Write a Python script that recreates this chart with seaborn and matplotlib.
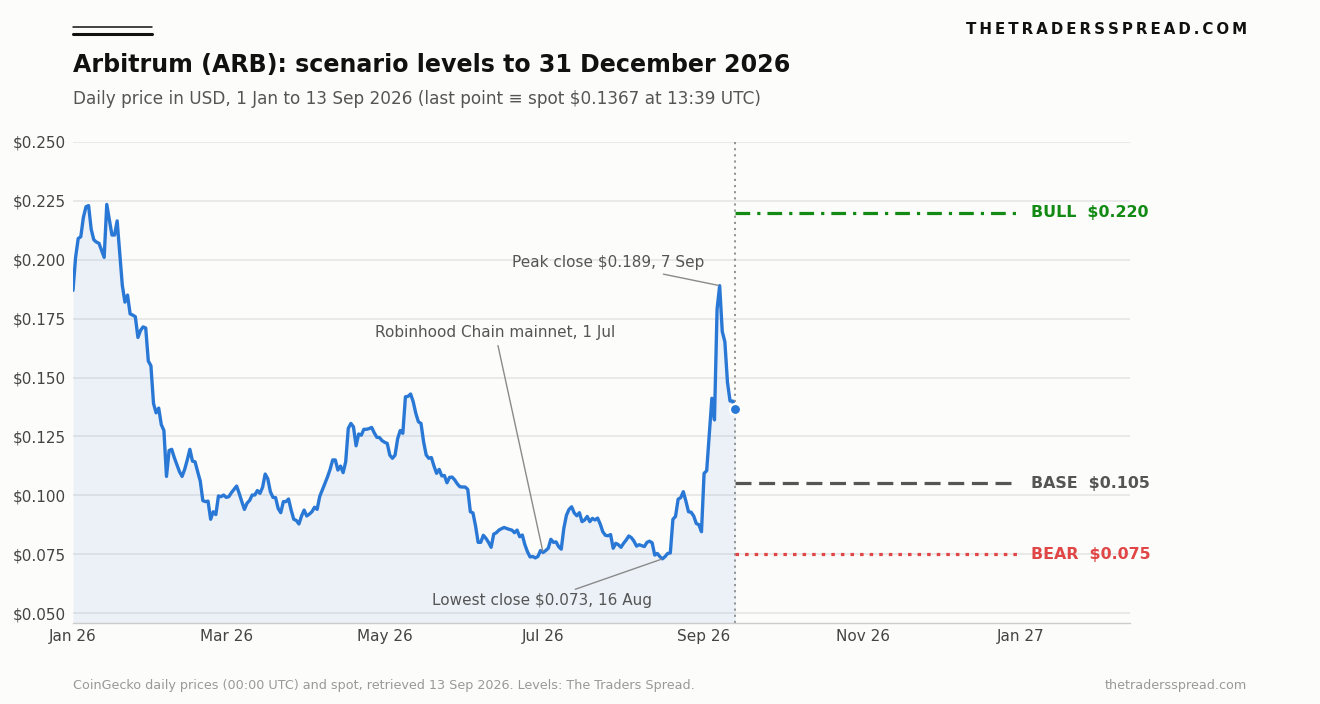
import numpy as np
import pandas as pd
import matplotlib
matplotlib.use("Agg")
import matplotlib.pyplot as plt
import matplotlib.dates as mdates
from matplotlib.lines import Line2D
from matplotlib.ticker import FuncFormatter
import seaborn as sns

# ---------------- data ----------------
start_date = "2026-01-01"
prices = [
    0.187, 0.201, 0.209, 0.2098, 0.218, 0.2225, 0.223, 0.213, 0.2085, 0.2075,
    0.207, 0.204, 0.201, 0.2235, 0.217, 0.2105, 0.2105, 0.2165, 0.203, 0.189,
    0.182, 0.185, 0.177, 0.1765, 0.1758, 0.167, 0.170, 0.1715, 0.171, 0.157,
    0.155, 0.139, 0.135, 0.137, 0.130, 0.1275, 0.108, 0.119, 0.1195, 0.116,
    0.113, 0.110, 0.108, 0.111, 0.115, 0.1195, 0.1145, 0.1142, 0.110, 0.106,
    0.0977, 0.0973, 0.0975, 0.0898, 0.093, 0.0918, 0.0997, 0.0994, 0.1001, 0.0991,
    0.0994, 0.1011, 0.1025, 0.1039, 0.1008, 0.0973, 0.094, 0.0966, 0.0978, 0.1001,
    0.1001, 0.102, 0.1008, 0.1034, 0.109, 0.107, 0.1015, 0.0991, 0.099, 0.0944,
    0.0926, 0.0973, 0.0973, 0.0984, 0.0937, 0.0898, 0.0893, 0.0878, 0.0912, 0.0937,
    0.0912, 0.092, 0.093, 0.0949, 0.094, 0.0995, 0.1022, 0.105, 0.1078, 0.111,
    0.115, 0.115, 0.1107, 0.1124, 0.1096, 0.1142, 0.1284, 0.1305, 0.129, 0.121,
    0.126, 0.1255, 0.128, 0.128, 0.1283, 0.1288, 0.1265, 0.1246, 0.1245, 0.1232,
    0.1225, 0.122, 0.117, 0.1157, 0.117, 0.124, 0.1275, 0.1263, 0.1418, 0.142,
    0.143, 0.1397, 0.1348, 0.1312, 0.1305, 0.1227, 0.1171, 0.1157, 0.116, 0.1124,
    0.1093, 0.111, 0.1082, 0.1084, 0.1053, 0.1076, 0.1077, 0.1065, 0.1048, 0.1036,
    0.1035, 0.1035, 0.1025, 0.093, 0.0925, 0.087, 0.080, 0.080, 0.083, 0.0817,
    0.080, 0.0779, 0.0835, 0.0841, 0.0852, 0.0858, 0.0863, 0.0859, 0.0855, 0.0852,
    0.0841, 0.0852, 0.0824, 0.0831, 0.079, 0.076, 0.0738, 0.074, 0.0734, 0.074,
    0.0765, 0.0757, 0.0765, 0.0775, 0.0813, 0.080, 0.0802, 0.0782, 0.0771, 0.086,
    0.0915, 0.094, 0.0951, 0.0925, 0.0913, 0.0926, 0.0888, 0.0895, 0.091, 0.0888,
    0.0902, 0.0895, 0.0903, 0.0878, 0.0845, 0.083, 0.0828, 0.0833, 0.0775, 0.0796,
    0.079, 0.0779, 0.0796, 0.081, 0.0827, 0.082, 0.0805, 0.0784, 0.079, 0.0786,
    0.0782, 0.080, 0.0805, 0.0798, 0.0746, 0.0753, 0.0739, 0.073, 0.074, 0.0753,
    0.0755, 0.0898, 0.091, 0.0983, 0.099, 0.1015, 0.0975, 0.093, 0.0928, 0.0912,
    0.088, 0.0875, 0.0845, 0.1093, 0.1104, 0.126, 0.1412, 0.132, 0.179, 0.189,
    0.1695, 0.1652, 0.148, 0.140, 0.140, 0.1367,
]
spot_price = 0.1367
horizon_date = "2026-12-31"
scenario_names = ["BULL", "BASE", "BEAR"]
scenario_levels = [0.220, 0.105, 0.075]
scenario_colors = ["#138a13", "#555555", "#e04646"]
scenario_styles = [(0, (4.6, 2.2, 1.0, 2.2)), (0, (5.0, 2.4)), (0, (1.1, 1.9))]
event_date = "2026-07-01"
event_label = "Robinhood Chain mainnet, 1 Jul"
y_ticks = [0.050, 0.075, 0.100, 0.125, 0.150, 0.175, 0.200, 0.225, 0.250]

# ---------------- style ----------------
BG = "#fcfcfa"
LINE = "#2a78d6"
sns.set_theme(style="whitegrid")
plt.rcParams["font.family"] = ["DejaVu Sans"]

dates = pd.date_range(start_date, periods=len(prices), freq="D")
df = pd.DataFrame({"date": dates, "price": prices})
spot_date = dates[-1]

fig = plt.figure(figsize=(13.2, 7.04), dpi=100, facecolor=BG)
W, H = 1320, 704
ax = fig.add_axes([73 / W, 1 - 623 / H, (1130 - 73) / W, (623 - 142) / H])
ax.set_facecolor(BG)

ax.fill_between(df["date"], df["price"], 0, color=LINE, alpha=0.08, lw=0, zorder=1)
sns.lineplot(data=df, x="date", y="price", ax=ax, color=LINE, lw=2.4, zorder=3)
ax.plot([spot_date], [spot_price], "o", color=LINE, ms=8, mec="white", mew=1.6, zorder=5)

ax.axvline(spot_date, color="#8c8c8c", lw=1.3, ls=(0, (1.2, 2.2)), zorder=2)

h_date = pd.Timestamp(horizon_date)
for name, lvl, col, sty in zip(scenario_names, scenario_levels, scenario_colors, scenario_styles):
    ax.plot([spot_date, h_date], [lvl, lvl], color=col, lw=2.3, ls=sty, zorder=4)
    ax.annotate(f"{name}  ${lvl:.3f}", xy=(h_date, lvl), xytext=(9, 0),
                textcoords="offset points", ha="left", va="center",
                color=col, fontsize=11.4, fontweight="bold", annotation_clip=False)

# annotations (peak / low since the event)
ev_d = pd.Timestamp(event_date)
recent = df[(df["date"] >= ev_d) & (df["date"] < spot_date)]
i_peak = recent["price"].idxmax()
i_low = recent["price"].idxmin()
pk_d, pk_v = recent.loc[i_peak, "date"], recent.loc[i_peak, "price"]
lo_d, lo_v = recent.loc[i_low, "date"], recent.loc[i_low, "price"]
ev_v = df.loc[df["date"] == ev_d, "price"].iloc[0]
arrow = dict(arrowstyle="-", color="#8a8a8a", lw=1.0, shrinkA=2, shrinkB=1)
txtkw = dict(ha="center", va="center", fontsize=11, color="#555555")
ax.annotate(f"Peak close ${pk_v:.3f}, {pk_d.day} {pk_d:%b}", xy=(pk_d, pk_v),
            xytext=(pk_d - pd.Timedelta(days=43), 0.1987), arrowprops=arrow, **txtkw)
ax.annotate(event_label, xy=(ev_d, ev_v),
            xytext=(ev_d - pd.Timedelta(days=18.5), 0.1693), arrowprops=arrow, **txtkw)
ax.annotate(f"Lowest close ${lo_v:.3f}, {lo_d.day} {lo_d:%b}", xy=(lo_d, lo_v),
            xytext=(lo_d - pd.Timedelta(days=46.5), 0.0551), arrowprops=arrow, **txtkw)

# axes
ax.set_xlim(pd.Timestamp("2026-01-01"), pd.Timestamp("2027-02-12"))
ax.set_ylim(0.050 - 10 / 2355, 0.250)
ax.set_yticks(y_ticks)
ax.yaxis.set_major_formatter(FuncFormatter(lambda v, p: f"${v:.3f}"))
ax.xaxis.set_major_locator(mdates.MonthLocator(bymonth=[1, 3, 5, 7, 9, 11]))
ax.xaxis.set_major_formatter(mdates.DateFormatter("%b %y"))
ax.set_xlabel("")
ax.set_ylabel("")
ax.grid(axis="x", visible=False)
ax.grid(axis="y", color="#e6e6e6", lw=1.2)
for s in ["left", "right", "top"]:
    ax.spines[s].set_visible(False)
ax.spines["bottom"].set_color("#cccccc")
ax.spines["bottom"].set_linewidth(1.0)
ax.tick_params(axis="both", length=0, labelsize=11, colors="#444444")
ax.tick_params(axis="y", pad=5)
ax.tick_params(axis="x", pad=4)

# header / footer
fig.add_artist(Line2D([73 / W, 152 / W], [1 - 26.8 / H] * 2, color="#111111", lw=1.1))
fig.add_artist(Line2D([73 / W, 152 / W], [1 - 34 / H] * 2, color="#111111", lw=2.2))
fig.text(73 / W, 1 - 65 / H, "Arbitrum (ARB): scenario levels to 31 December 2026",
         ha="left", va="center", fontsize=17.1, fontweight="bold", color="#111111")
fig.text(73 / W, 1 - 99 / H,
         "Daily price in USD, 1 Jan to 13 Sep 2026 (last point \u2261 spot $0.1367 at 13:39 UTC)",
         ha="left", va="center", fontsize=12.2, color="#555555")
fig.text(1247 / W, 1 - 29 / H, "\u2009".join("THETRADERSSPREAD.COM"),
         ha="right", va="center", fontsize=10.8, fontweight="bold", color="#111111")
fig.text(73 / W, 1 - 685 / H,
         "CoinGecko daily prices (00:00 UTC) and spot, retrieved 13 Sep 2026. Levels: The Traders Spread.",
         ha="left", va="center", fontsize=9.2, color="#999999")
fig.text(1247 / W, 1 - 685 / H, "thetradersspread.com",
         ha="right", va="center", fontsize=9.2, color="#999999")

fig.savefig("out.png", dpi=100, facecolor=BG)
